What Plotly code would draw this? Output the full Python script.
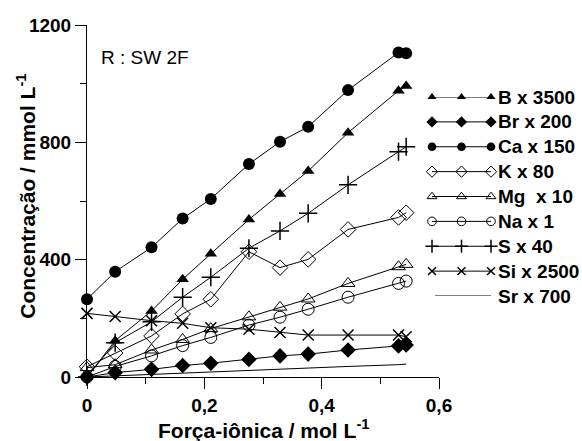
import plotly.graph_objects as go

# Ionic strength (mol/L) of each sample
forca_ionica = [0, 0.048, 0.110, 0.163, 0.211, 0.276, 0.329, 0.377, 0.445, 0.531, 0.544]

# Scaled concentrations (mmol/L) for each element
b_x3500 = [0, 124, 225, 333, 420, 537, 624, 702, 833, 976, 992]
br_x200 = [0, 15, 26, 39, 47, 60, 72, 78, 92, 106, 109]
ca_x150 = [265, 359, 442, 540, 607, 726, 802, 853, 978, 1106, 1104]
k_x80 = [35, 82, 140, 215, 265, 427, 373, 401, 503, 544, 560]
mg_x10 = [32, 42, 92, 128, 165, 205, 238, 266, 319, 376, 384]
na_x1 = [0, 36, 72, 107, 135, 177, 204, 231, 272, 319, 327]
s_x40 = [0, 117, 188, 272, 340, 439, 498, 558, 655, 768, 785]
si_x2500 = [217, 206, 192, 183, 168, 163, 152, 143, 143, 143, 137]
sr_x700 = [0, 4, 9, 14, 17, 22, 27, 30, 36, 42, 44]

x_tick_vals = [0, 0.2, 0.4, 0.6]
x_tick_text = ["0", "0,2", "0,4", "0,6"]
y_tick_vals = [0, 400, 800, 1200]

FONT = "Liberation Sans, Arial, sans-serif"
NB = "\u00a0"

# name, values, marker symbol, marker size, marker line width (None = filled)
series = [
    ("B x 3500", b_x3500, "triangle-up", 11, None),
    ("Br x 200", br_x200, "diamond", 12, None),
    ("Ca x 150", ca_x150, "circle", 12, None),
    ("K x 80", k_x80, "diamond-open", 12, 1),
    ("Mg" + NB + NB + "x 10", mg_x10, "triangle-up-open", 12, 1),
    ("Na x 1", na_x1, "circle-open", 12, 1),
    ("S x 40", s_x40, "cross-thin", 13, 1.5),
    ("Si x 2500", si_x2500, "x-thin", 11, 1.5),
    ("Sr x 700", sr_x700, None, 0, None),
]


def make_marker(symbol, size, lw, scale=1.0):
    m = dict(symbol=symbol, size=size * scale, color="black")
    if lw is not None:
        m["line"] = dict(width=lw, color="black")
    return m


fig = go.Figure()
for name, vals, symbol, size, lw in series:
    fig.add_trace(go.Scatter(
        x=forca_ionica, y=vals, name=name,
        mode="lines+markers" if symbol else "lines",
        line=dict(color="black", width=1),
        marker=make_marker(symbol, size, lw) if symbol else None,
        cliponaxis=False, showlegend=False,
    ))

# Key: three-marker line samples on an auxiliary axis to the right of the plot
key_x = [0, 0.5, 1]
for i, (name, vals, symbol, size, lw) in enumerate(series):
    if symbol:
        fig.add_trace(go.Scatter(
            x=key_x, y=[-i] * len(key_x), mode="lines+markers",
            line=dict(color="black", width=1),
            marker=make_marker(symbol, size, lw, 0.72),
            xaxis="x2", yaxis="y2", cliponaxis=False, showlegend=False,
            hoverinfo="skip",
        ))
    else:
        fig.add_trace(go.Scatter(
            x=[0.05, 1], y=[-i, -i], mode="lines",
            line=dict(color="black", width=1),
            xaxis="x2", yaxis="y2", cliponaxis=False, showlegend=False,
            hoverinfo="skip",
        ))
    fig.add_annotation(
        text=name, xref="x2", yref="y2", x=1, y=-i, xanchor="left",
        yanchor="middle", xshift=5, showarrow=False,
        font=dict(family=FONT, size=19, color="black", weight="bold"),
    )

axis_common = dict(
    showline=True, linecolor="black", linewidth=1, showgrid=False, zeroline=False,
    ticks="outside", ticklen=11, tickwidth=1, tickcolor="black",
    tickfont=dict(family=FONT, size=19, color="black", weight="bold"),
    automargin=False,
)

PLOT_W = 495.0
fig.update_layout(
    xaxis=dict(
        domain=[0, 352 / PLOT_W], range=[0, 0.6],
        tickvals=x_tick_vals, ticktext=x_tick_text,
        minor=dict(dtick=0.1, ticklen=6, tickcolor="black", ticks="outside"),
        **axis_common,
    ),
    yaxis=dict(
        range=[0, 1200], tickvals=y_tick_vals,
        minor=dict(dtick=200, ticklen=6, tickcolor="black", ticks="outside"),
        **axis_common,
    ),
    xaxis2=dict(domain=[345 / PLOT_W, 404 / PLOT_W], range=[0, 1],
                anchor="y2", visible=False, fixedrange=True, automargin=False),
    yaxis2=dict(domain=[81 / 352, 280 / 352], range=[-8, 0],
                anchor="x2", visible=False, fixedrange=True, automargin=False),
)

fig.add_annotation(
    text="Concentração / mmol L<sup>-1</sup>", xref="paper", yref="paper",
    x=-76 / PLOT_W, y=0.512, textangle=-90, showarrow=False,
    font=dict(family=FONT, size=21, color="black", weight="bold"),
)
fig.add_annotation(
    text="Força-iônica / mol L<sup>-1</sup>", xref="paper", yref="paper",
    x=176 / PLOT_W, y=-0.147, showarrow=False, yanchor="middle",
    font=dict(family=FONT, size=21, color="black", weight="bold"),
)
fig.add_annotation(
    text="R : SW 2F", xref="paper", yref="paper",
    x=12 / PLOT_W, y=0.908, xanchor="left", yanchor="middle", showarrow=False,
    font=dict(family=FONT, size=19, color="black"),
)

fig.update_layout(
    width=582, height=441,
    margin=dict(l=87, r=0, t=25, b=64, pad=0, autoexpand=False),
    plot_bgcolor="white", paper_bgcolor="white",
    showlegend=False,
)

fig.write_html("out.html")
